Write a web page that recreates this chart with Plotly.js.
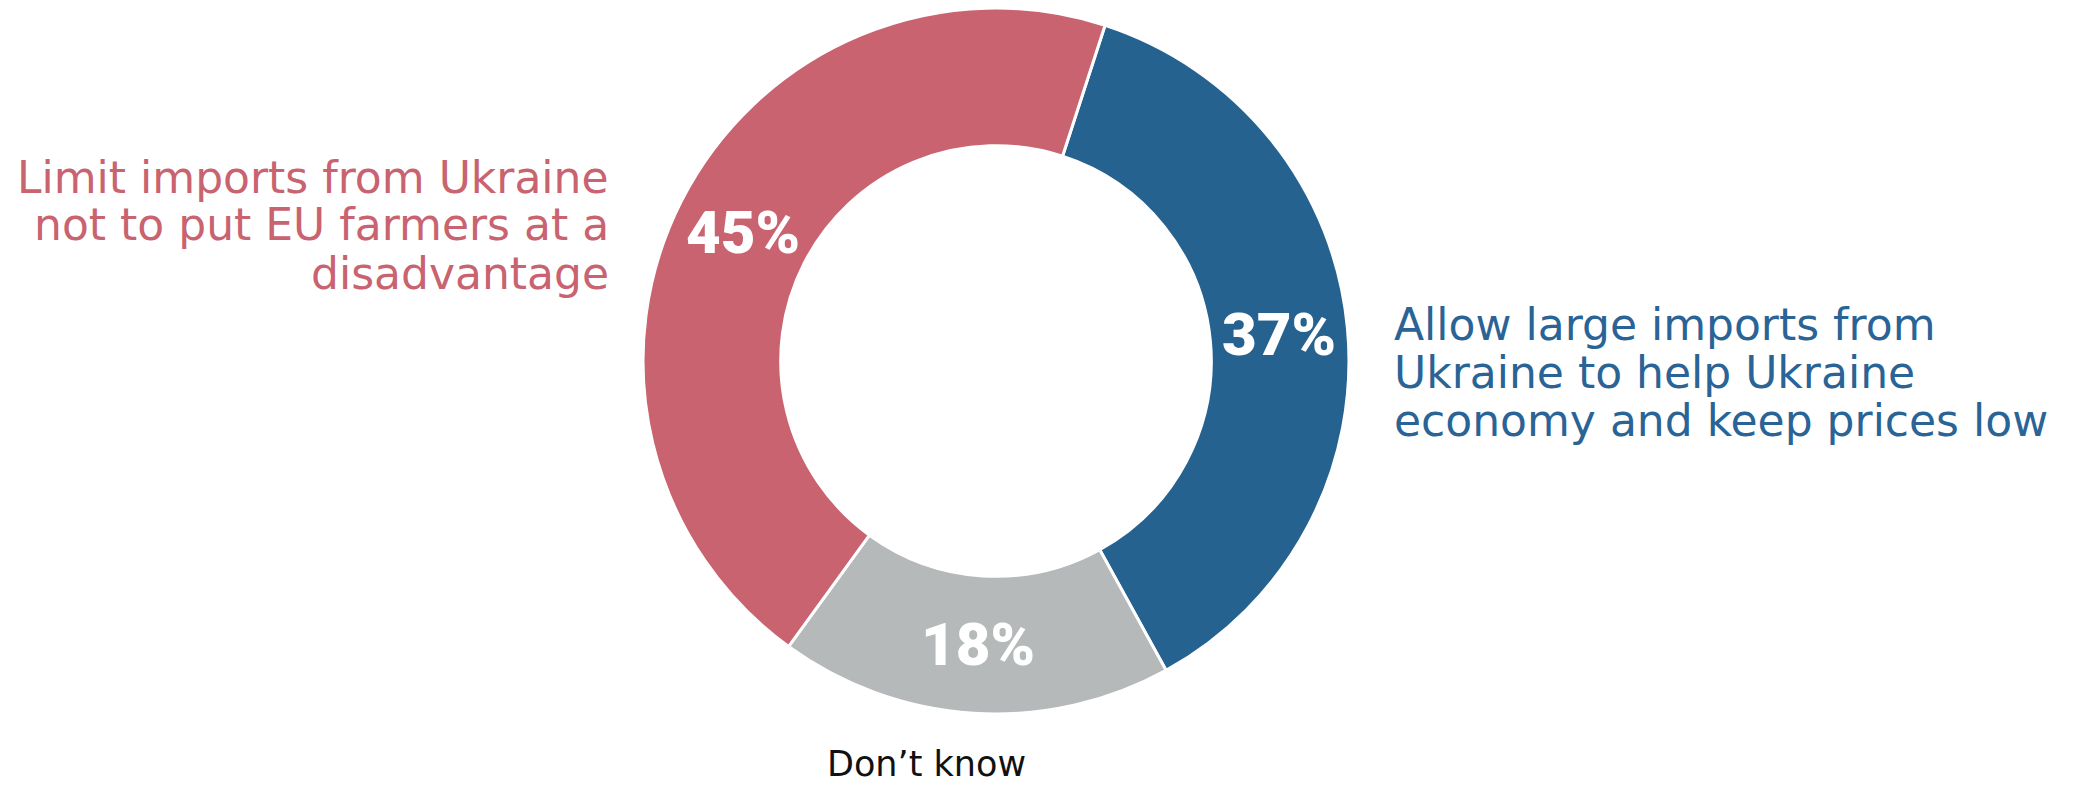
<!DOCTYPE html>
<html>
<head>
<meta charset="utf-8">
<script src="https://cdn.plot.ly/plotly-3.0.1.min.js"></script>
<style>html,body{margin:0;padding:0;background:#fff;}#chart{width:2075px;height:786px;}</style>
</head>
<body>
<div id="chart"></div>
<script>
const categories = [
  "Allow large imports from Ukraine to help Ukraine economy and keep prices low",
  "Don’t know",
  "Limit imports from Ukraine not to put EU farmers at a disadvantage"
];
const labelLines = [
  ["Allow large imports from", "Ukraine to help Ukraine", "economy and keep prices low"],
  ["Don’t know"],
  ["Limit imports from Ukraine", "not to put EU farmers at a", "disadvantage"]
];
const values = [37, 18, 45];
const sliceColors = ["#26628F", "#B5B9BA", "#C8636F"];
const labelColors = ["#2A6496", "#111111", "#C8636F"];

const W = 2075, H = 786;
const hole = 0.61;
const rotation = 18;
const domX = [0.3099, 0.6501], domY = [0.0916, 0.9898];

const trace = {
  type: "pie",
  labels: categories,
  values: values,
  hole: hole,
  sort: false,
  direction: "clockwise",
  rotation: rotation,
  marker: {colors: sliceColors, line: {color: "#ffffff", width: 3}},
  textinfo: "none",
  hoverinfo: "label+percent",
  showlegend: false,
  domain: {x: domX, y: domY}
};

// percentage labels placed on each slice's bisector, mid-ring, derived from the data
const total = values.reduce((a, b) => a + b, 0);
const cx = (domX[0] + domX[1]) / 2, cy = (domY[0] + domY[1]) / 2;
const R = Math.min((domX[1] - domX[0]) * W, (domY[1] - domY[0]) * H) / 2;
const rMid = R * (1 + hole) / 2;
let cum = 0;
const pctAnnotations = values.map(v => {
  const th = (rotation + 360 * (cum + v / 2) / total) * Math.PI / 180;
  cum += v;
  return {
    text: Math.round(100 * v / total) + "%",
    x: cx + rMid * Math.sin(th) / W,
    y: cy + rMid * Math.cos(th) / H,
    xanchor: "center", yanchor: "middle",
    font: {family: "Roboto", size: 60, color: "#ffffff", weight: 900}
  };
});

// outside category labels, one annotation per line
const labelFont = "DejaVu Sans";
const labelSpecs = [
  {x: 1392 / W, firstLineY: 324, xanchor: "left", size: 44},
  {x: 926 / W, firstLineY: 764, xanchor: "center", size: 35},
  {x: 611 / W, firstLineY: 177, xanchor: "right", size: 44}
];
const lineGap = 48;
const labelAnnotations = [];
labelLines.forEach((lines, i) => {
  const s = labelSpecs[i];
  lines.forEach((line, j) => {
    labelAnnotations.push({
      text: line,
      x: s.x, y: 1 - (s.firstLineY + j * lineGap) / H,
      xanchor: s.xanchor, yanchor: "middle",
      font: {family: labelFont, size: s.size, color: labelColors[i]}
    });
  });
});

const annotations = labelAnnotations.concat(pctAnnotations)
  .map(a => Object.assign({xref: "paper", yref: "paper", showarrow: false}, a));

const layout = {
  width: W, height: H,
  margin: {l: 0, r: 0, t: 0, b: 0},
  paper_bgcolor: "#ffffff",
  plot_bgcolor: "#ffffff",
  annotations: annotations
};

Plotly.newPlot("chart", [trace], layout, {displayModeBar: false, staticPlot: true});
</script>
</body>
</html>
